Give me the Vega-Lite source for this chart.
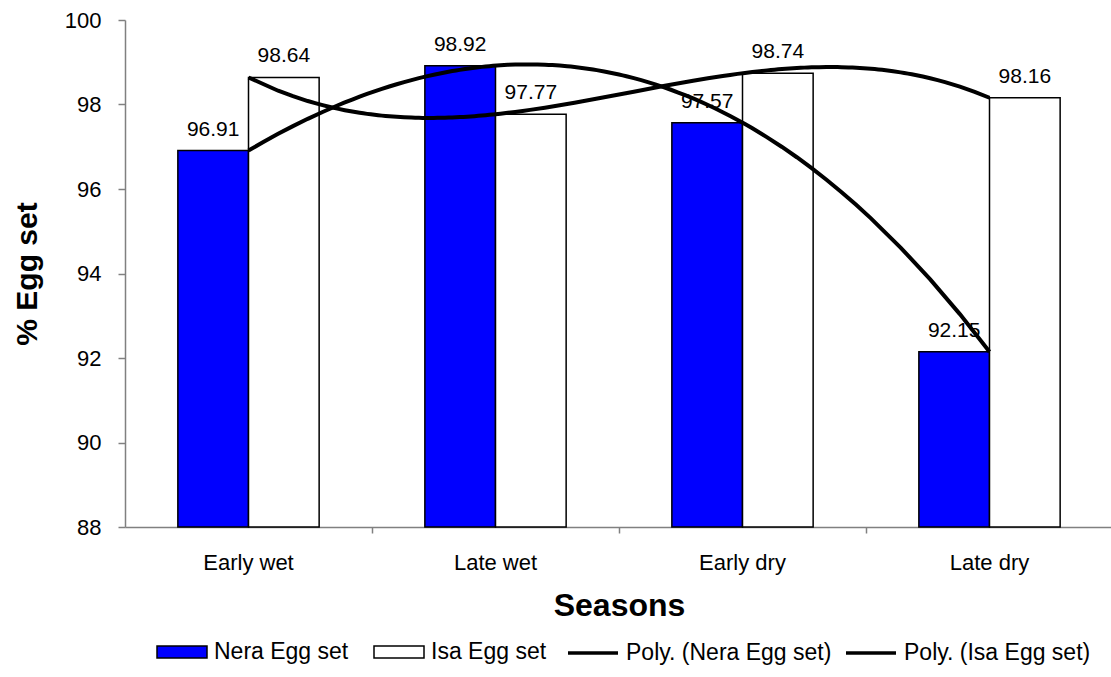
{
  "$schema": "https://vega.github.io/schema/vega-lite/v6.json",
  "width": 988,
  "height": 507,
  "autosize": {"type": "none"},
  "padding": {"left": 125, "top": 20, "right": 0, "bottom": 150},
  "background": "white",
  "config": {
    "font": "Liberation Sans",
    "view": {"stroke": null},
    "axis": {"grid": false, "labelFont": "Liberation Sans", "titleFont": "Liberation Sans", "labelColor": "black", "titleColor": "black"},
    "legend": {"labelFont": "Liberation Sans", "labelColor": "black"}
  },
  "data": {
    "values": [
      {"season": "Early wet", "series": "Nera Egg set", "idx": 0, "value": 96.91},
      {"season": "Early wet", "series": "Isa Egg set", "idx": 0, "value": 98.64},
      {"season": "Late wet", "series": "Nera Egg set", "idx": 1, "value": 98.92},
      {"season": "Late wet", "series": "Isa Egg set", "idx": 1, "value": 97.77},
      {"season": "Early dry", "series": "Nera Egg set", "idx": 2, "value": 97.57},
      {"season": "Early dry", "series": "Isa Egg set", "idx": 2, "value": 98.74},
      {"season": "Late dry", "series": "Nera Egg set", "idx": 3, "value": 92.15},
      {"season": "Late dry", "series": "Isa Egg set", "idx": 3, "value": 98.16}
    ]
  },
  "resolve": {"scale": {"x": "independent"}, "axis": {"x": "independent"}},
  "layer": [
    {
      "mark": {"type": "bar", "stroke": "black", "strokeWidth": 1.5},
      "encoding": {
        "x": {
          "field": "season", "type": "nominal",
          "sort": ["Early wet", "Late wet", "Early dry", "Late dry"],
          "scale": {"paddingInner": 0.428, "paddingOuter": 0.214},
          "axis": {
            "orient": "bottom",
            "title": "Seasons", "titleFontSize": 32, "titleFontWeight": "bold", "titlePadding": 17,
            "labelFontSize": 22, "labelAngle": 0, "labelPadding": 25, "ticks": false,
            "domainColor": "#808080", "domainWidth": 1.5
          }
        },
        "xOffset": {"field": "series", "type": "nominal", "sort": ["Nera Egg set", "Isa Egg set"], "scale": {"paddingInner": 0, "paddingOuter": 0}},
        "y": {
          "field": "value", "type": "quantitative",
          "scale": {"domain": [88, 100], "zero": false, "nice": false},
          "axis": {
            "title": "% Egg set", "titleFontSize": 30, "titleFontWeight": "bold", "titlePadding": 22,
            "labelFontSize": 22, "labelPadding": 17, "tickSize": 7, "tickColor": "#808080", "tickWidth": 1.5,
            "domainColor": "#808080", "domainWidth": 1.5, "values": [88, 90, 92, 94, 96, 98, 100]
          }
        },
        "y2": {"datum": 88},
        "fill": {
          "field": "series", "type": "nominal",
          "scale": {"domain": ["Nera Egg set", "Isa Egg set"], "range": ["#0000FF", "#FFFFFF"]},
          "legend": {
            "title": null, "orient": "none", "legendX": 31, "legendY": 606, "direction": "horizontal",
            "symbolType": "M-1,-0.24H1V0.24H-1Z", "symbolSize": 2500, "symbolStrokeColor": "black", "symbolStrokeWidth": 1.5,
            "labelFontSize": 23, "labelOffset": 6, "columnPadding": 22, "padding": 0, "labelLimit": 0
          }
        }
      }
    },
    {
      "mark": {"type": "text", "fontSize": 21, "dy": -15, "baseline": "alphabetic", "color": "black"},
      "encoding": {
        "x": {
          "field": "season", "type": "nominal",
          "sort": ["Early wet", "Late wet", "Early dry", "Late dry"],
          "scale": {"paddingInner": 0.428, "paddingOuter": 0.214},
          "axis": null
        },
        "xOffset": {"field": "series", "type": "nominal", "sort": ["Nera Egg set", "Isa Egg set"], "scale": {"paddingInner": 0, "paddingOuter": 0}},
        "y": {"field": "value", "type": "quantitative"},
        "text": {"field": "value", "type": "quantitative", "format": ".2f"}
      }
    },
    {
      "transform": [
        {"regression": "value", "on": "idx", "groupby": ["series"], "method": "poly", "order": 3},
        {"calculate": "'Poly. (' + datum.series + ')'", "as": "trend"}
      ],
      "mark": {"type": "line", "strokeWidth": 4},
      "encoding": {
        "x": {
          "field": "idx", "type": "quantitative",
          "scale": {"domain": [-0.5, 3.5], "nice": false, "zero": false},
          "axis": {"orient": "bottom", "values": [0.5, 1.5, 2.5], "labels": false, "domain": false, "title": null, "tickSize": 6, "tickColor": "#808080", "tickWidth": 1.5}
        },
        "y": {"field": "value", "type": "quantitative"},
        "stroke": {
          "field": "trend", "type": "nominal",
          "scale": {"domain": ["Poly. (Nera Egg set)", "Poly. (Isa Egg set)"], "range": ["#000000", "#000000"]},
          "legend": {
            "title": null, "orient": "none", "legendX": 441, "legendY": 606, "direction": "horizontal",
            "symbolType": "stroke", "symbolSize": 2500, "symbolStrokeWidth": 3.5,
            "labelFontSize": 23, "labelOffset": 6, "columnPadding": 7, "padding": 0, "labelLimit": 0
          }
        }
      }
    }
  ]
}
